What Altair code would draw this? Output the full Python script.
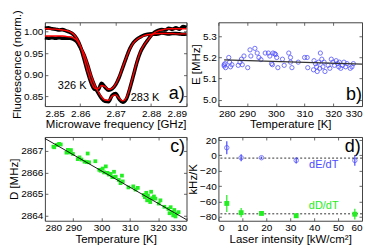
import altair as alt
import pandas as pd

FONT = "Liberation Sans"

# ---------------- panel a : ODMR spectra ----------------
freq = [2.850, 2.851, 2.852, 2.853, 2.854, 2.855, 2.856, 2.857, 2.858, 2.859,
        2.860, 2.861, 2.862, 2.863, 2.864, 2.865, 2.866, 2.867, 2.868, 2.869,
        2.870, 2.871, 2.872, 2.873, 2.874, 2.875, 2.876, 2.877, 2.878, 2.879,
        2.880, 2.881, 2.882, 2.883, 2.884, 2.885, 2.886, 2.887, 2.888, 2.889, 2.890]
fit_326 = [1.007, 1.007, 1.006, 1.006, 1.005, 1.004, 1.003, 1.000, 0.995, 0.985,
           0.968, 0.940, 0.910, 0.884, 0.869, 0.867, 0.875, 0.872, 0.866, 0.868,
           0.878, 0.895, 0.918, 0.940, 0.960, 0.974, 0.982, 0.987, 0.991, 0.993,
           0.994, 0.995, 0.996, 0.996, 0.996, 0.996, 0.996, 0.995, 0.995, 0.995, 0.995]
data_326 = [1.008, 1.009, 1.007, 1.006, 1.004, 1.005, 1.002, 0.999, 0.994, 0.984,
            0.966, 0.938, 0.908, 0.882, 0.866, 0.865, 0.880, 0.871, 0.864, 0.867,
            0.877, 0.894, 0.917, 0.940, 0.961, 0.975, 0.983, 0.988, 0.992, 0.994,
            0.995, 0.994, 0.995, 0.997, 0.996, 0.995, 0.996, 0.996, 0.995, 0.994, 0.995]
fit_283 = [0.990, 0.990, 0.990, 0.990, 0.990, 0.990, 0.989, 0.988, 0.986, 0.980,
           0.966, 0.950, 0.927, 0.900, 0.878, 0.861, 0.848, 0.841, 0.840, 0.850,
           0.853, 0.845, 0.839, 0.846, 0.870, 0.900, 0.930, 0.954, 0.969, 0.980,
           0.990, 0.998, 1.002, 1.004, 1.006, 1.007, 1.007, 1.007, 1.007, 1.007, 1.007]
data_283 = [0.986, 0.985, 0.986, 0.985, 0.986, 0.985, 0.985, 0.985, 0.983, 0.977,
            0.963, 0.947, 0.924, 0.897, 0.875, 0.858, 0.845, 0.838, 0.837, 0.852,
            0.856, 0.843, 0.836, 0.843, 0.868, 0.898, 0.929, 0.953, 0.968, 0.980,
            0.991, 0.999, 1.003, 1.005, 1.004, 1.008, 1.006, 1.009, 1.006, 1.012, 1.010]
a_labels = ["326 K", "283 K"]
a_label_x = [2.8577, 2.8783]
a_label_y = [0.874, 0.846]
a_xticks = [2.85, 2.86, 2.87, 2.88, 2.89]
a_yticks = [0.85, 0.90, 0.95, 1.00]

# ---------------- panel b : E vs T ----------------
b_T = [282.0, 282.0, 282.3, 282.5, 283.6, 283.9, 284.2, 284.7, 286.9, 287.5,
       288.0, 288.3, 288.9, 290.2, 291.0, 291.3, 292.7, 293.5, 294.1, 294.8,
       296.3, 297.4, 297.9, 298.5, 298.8, 299.0, 299.6, 299.9, 300.3, 300.7,
       302.3, 302.9, 304.5, 305.1, 305.1, 305.6, 307.8, 310.0, 310.9, 311.1,
       313.1, 313.3, 313.8, 314.2, 314.4, 314.9, 315.3, 315.5, 316.0, 316.4,
       316.8, 317.1, 318.2, 318.8, 319.3, 319.9, 320.4, 321.0, 321.5, 321.9,
       322.1, 322.6, 323.2, 323.7, 324.3, 324.8, 325.9, 326.5, 327.0]
b_E = [5.165, 5.159, 5.170, 5.151, 5.199, 5.177, 5.155, 5.165, 5.162, 5.177,
       5.191, 5.165, 5.206, 5.151, 5.235, 5.206, 5.242, 5.220, 5.199, 5.189,
       5.220, 5.220, 5.206, 5.170, 5.165, 5.220, 5.217, 5.213, 5.199, 5.151,
       5.191, 5.162, 5.220, 5.199, 5.177, 5.151, 5.177, 5.199, 5.199, 5.151,
       5.141, 5.184, 5.170, 5.155, 5.133, 5.177, 5.148, 5.220, 5.191, 5.155,
       5.177, 5.133, 5.162, 5.148, 5.191, 5.177, 5.162, 5.184, 5.170, 5.155,
       5.177, 5.148, 5.162, 5.177, 5.155, 5.170, 5.148, 5.155, 5.170]
b_fit_T = [282, 330]
b_fit_E = [5.188, 5.168]
T_ticks = [280, 290, 300, 310, 320, 330]
b_yticks = [5.0, 5.1, 5.2, 5.3]

# ---------------- panel c : D vs T ----------------
c_T = [283.0, 283.3, 284.2, 285.0, 285.6, 287.6, 288.1, 288.7, 289.2, 289.9,
       291.6, 292.2, 292.9, 294.0, 294.8, 295.1, 295.6, 297.8, 299.2, 299.7,
       300.4, 300.9, 301.5, 302.1, 302.6, 303.2, 303.8, 304.4, 305.0, 306.1,
       306.7, 307.2, 307.5, 309.5, 311.2, 312.0, 312.8, 314.9, 315.3, 315.8,
       316.1, 316.4, 316.9, 317.2, 317.5, 317.9, 318.5, 319.0, 320.2, 320.8,
       322.2, 323.6, 324.0, 324.4, 324.9, 325.3, 325.7, 326.1, 326.5, 327.2]
c_D = [2867.20, 2867.17, 2867.28, 2867.33, 2867.30, 2866.92, 2867.05, 2866.93, 2867.04, 2866.86,
       2866.62, 2866.70, 2866.60, 2866.50, 2866.48, 2866.88, 2866.47, 2866.52, 2866.12, 2866.08,
       2866.18, 2866.00, 2866.28, 2865.98, 2865.90, 2865.93, 2865.78, 2866.03, 2865.80, 2865.65,
       2865.50, 2865.85, 2865.58, 2865.30, 2865.35, 2865.20, 2865.28, 2864.95, 2864.85, 2865.05,
       2864.70, 2864.92, 2864.75, 2864.62, 2865.10, 2864.80, 2864.88, 2864.78, 2864.55, 2864.70,
       2864.40, 2864.30, 2864.10, 2864.38, 2864.15, 2864.00, 2864.25, 2863.95, 2864.08, 2864.15]
c_fit_T = [280, 330]
c_fit_D = [2867.58, 2863.80]
c_yticks = [2864, 2865, 2866, 2867]

# ---------------- panel d : slopes vs laser intensity ----------------
d_I = [3.5, 9.5, 18.0, 32.5, 57.0]
dE = [10.0, -3.0, -3.0, -6.5, -6.5]
dE_err = [8.5, 4.5, 1.5, 4.0, 7.0]
dD = [-62.5, -74.5, -75.5, -78.5, -76.5]
dD_err = [11.0, 6.0, 2.0, 3.0, 7.0]
dE_mean = -3.5
dD_mean = -76.0
d_xticks = [0, 10, 20, 30, 40, 50, 60]
d_yticks = [-80, -60, -40, -20, 0, 20]

BLUE = "#4a4aff"
GREEN = "#22ee22"

W_L, W_R, H = 142, 144, 84


def ax(values, title, fmt=None):
    kw = dict(values=values, title=title, labelOverlap=False, tickCount=20)
    if fmt:
        kw["format"] = fmt
    return alt.Axis(**kw)


def frame(xs, ys, xv, yv):
    # invisible layer carrying the tick-only axes on the top and right frame edges
    return alt.Chart(pd.DataFrame({"x": [xv[0]], "y": [yv[0]]})).mark_point(opacity=0).encode(
        x=alt.X("x:Q", scale=xs, axis=alt.Axis(orient="top", values=xv, labels=False, title=None,
                                               tickCount=20)),
        y=alt.Y("y:Q", scale=ys, axis=alt.Axis(orient="right", values=yv, labels=False, title=None,
                                               tickCount=20)))


def panel_label(text, x, y, xs, ys, align="right", baseline="bottom"):
    return alt.Chart(pd.DataFrame({"x": [x], "y": [y], "t": [text]})).mark_text(
        font=FONT, fontSize=18, align=align, baseline=baseline, color="black"
    ).encode(x=alt.X("x:Q", scale=xs, axis=None), y=alt.Y("y:Q", scale=ys, axis=None), text="t:N")


# ---- a ----
rows = []
for name, d_, f_ in [("326", data_326, fit_326), ("283", data_283, fit_283)]:
    for fr, dv, fv in zip(freq, d_, f_):
        rows.append({"f": fr, "data": dv, "fit": fv, "s": name})
dfa = pd.DataFrame(rows)
xs_a = alt.Scale(domain=[2.85, 2.89], nice=False, zero=False)
ys_a = alt.Scale(domain=[0.827, 1.022], nice=False, zero=False)
a_data = alt.Chart(dfa).mark_line(color="black", strokeWidth=3.6, interpolate="monotone").encode(
    x=alt.X("f:Q", scale=xs_a, axis=ax(a_xticks, "Microwave frequency [GHz]", ".2f")),
    y=alt.Y("data:Q", scale=ys_a, axis=ax(a_yticks, "Fluorescence (norm.)", ".2f")),
    detail="s:N")
a_fit = alt.Chart(dfa).mark_line(color="#ff0000", strokeWidth=1.4, interpolate="monotone").encode(
    x=alt.X("f:Q", scale=xs_a, axis=None), y=alt.Y("fit:Q", scale=ys_a, axis=None), detail="s:N")
a_txt = alt.Chart(pd.DataFrame({"x": a_label_x, "y": a_label_y, "t": a_labels})).mark_text(
    font=FONT, fontSize=11, color="black").encode(
    x=alt.X("x:Q", scale=xs_a, axis=None), y=alt.Y("y:Q", scale=ys_a, axis=None), text="t:N")
pa = alt.layer(a_data, a_fit, a_txt, frame(xs_a, ys_a, a_xticks, a_yticks),
               panel_label("a)", 2.8895, 0.834, xs_a, ys_a)).resolve_axis(
    x="independent", y="independent").properties(width=W_L, height=H)

# ---- b ----
xs_T = alt.Scale(domain=[280, 330], nice=False, zero=False)
ys_b = alt.Scale(domain=[4.97, 5.365], nice=False, zero=False)
dfb = pd.DataFrame({"T": b_T, "E": b_E})
b_pts = alt.Chart(dfb).mark_point(shape="circle", filled=False, color=BLUE, size=18, strokeWidth=0.9,
                                  opacity=0.85).encode(
    x=alt.X("T:Q", scale=xs_T, axis=ax(T_ticks, "Temperature [K]")),
    y=alt.Y("E:Q", scale=ys_b, axis=ax(b_yticks, "E [MHz]", ".1f")))
b_fit = alt.Chart(pd.DataFrame({"T": b_fit_T, "E": b_fit_E})).mark_line(color="#333333", strokeWidth=1.3).encode(
    x=alt.X("T:Q", scale=xs_T, axis=None), y=alt.Y("E:Q", scale=ys_b, axis=None))
pb = alt.layer(b_pts, b_fit, frame(xs_T, ys_b, T_ticks, b_yticks),
               panel_label("b)", 330, 4.981, xs_T, ys_b)).resolve_axis(
    x="independent", y="independent").properties(width=W_R, height=H)

# ---- c ----
ys_c = alt.Scale(domain=[2863.75, 2867.65], nice=False, zero=False)
dfc = pd.DataFrame({"T": c_T, "D": c_D})
c_pts = alt.Chart(dfc).mark_square(color=GREEN, size=14, opacity=1).encode(
    x=alt.X("T:Q", scale=xs_T, axis=ax(T_ticks, "Temperature [K]")),
    y=alt.Y("D:Q", scale=ys_c, axis=ax(c_yticks, "D [MHz]", "d")))
c_fit = alt.Chart(pd.DataFrame({"T": c_fit_T, "D": c_fit_D})).mark_line(color="black", strokeWidth=0.9).encode(
    x=alt.X("T:Q", scale=xs_T, axis=None), y=alt.Y("D:Q", scale=ys_c, axis=None))
pc = alt.layer(c_pts, c_fit, frame(xs_T, ys_c, T_ticks, c_yticks),
               panel_label("c)", 329.5, 2867.62, xs_T, ys_c, baseline="top")).resolve_axis(
    x="independent", y="independent").properties(width=W_L, height=H)

# ---- d ----
xs_d = alt.Scale(domain=[0, 60], nice=False, zero=False)
ys_d = alt.Scale(domain=[-85, 24], nice=False, zero=False)
dfe = pd.DataFrame({"I": d_I, "v": dE, "lo": [v - e for v, e in zip(dE, dE_err)],
                    "hi": [v + e for v, e in zip(dE, dE_err)]})
dfd = pd.DataFrame({"I": d_I, "v": dD, "lo": [v - e for v, e in zip(dD, dD_err)],
                    "hi": [v + e for v, e in zip(dD, dD_err)]})
e_pts = alt.Chart(dfe).mark_point(shape="circle", filled=False, color=BLUE, size=20, strokeWidth=1).encode(
    x=alt.X("I:Q", scale=xs_d, axis=ax(d_xticks, "Laser intensity [kW/cm²]")),
    y=alt.Y("v:Q", scale=ys_d, axis=ax(d_yticks, "kHz/K")))
means = alt.Chart(pd.DataFrame({"m": [dE_mean, dD_mean]})).mark_rule(
    color="black", strokeWidth=0.8, strokeDash=[2, 2]).encode(y=alt.Y("m:Q", scale=ys_d, axis=None))
e_bar = alt.Chart(dfe).mark_rule(color=BLUE, strokeWidth=1.2).encode(
    x=alt.X("I:Q", scale=xs_d, axis=None), y=alt.Y("lo:Q", scale=ys_d, axis=None), y2="hi:Q")
d_bar = alt.Chart(dfd).mark_rule(color=GREEN, strokeWidth=1.2).encode(
    x=alt.X("I:Q", scale=xs_d, axis=None), y=alt.Y("lo:Q", scale=ys_d, axis=None), y2="hi:Q")
d_pts = alt.Chart(dfd).mark_square(color=GREEN, size=24, opacity=1).encode(
    x=alt.X("I:Q", scale=xs_d, axis=None), y=alt.Y("v:Q", scale=ys_d, axis=None))
d_txt = alt.Chart(pd.DataFrame({"x": [44, 44], "y": [-12, -66], "t": ["dE/dT", "dD/dT"],
                                "c": [BLUE, GREEN]})).mark_text(font=FONT, fontSize=11).encode(
    x=alt.X("x:Q", scale=xs_d, axis=None), y=alt.Y("y:Q", scale=ys_d, axis=None), text="t:N",
    color=alt.Color("c:N", scale=None))
pd_ = alt.layer(e_pts, means, e_bar, d_bar, d_pts, d_txt, frame(xs_d, ys_d, d_xticks, d_yticks),
                panel_label("d)", 59.5, 23, xs_d, ys_d, baseline="top")).resolve_axis(
    x="independent", y="independent").properties(width=W_R, height=H)

chart = alt.concat(pa, pb, pc, pd_, columns=2, spacing={"row": 31, "column": 32}, bounds="flush").properties(
    padding=0
).configure_view(stroke="#444444", strokeWidth=1).configure_axis(
    grid=False, domain=False, ticks=True, tickSize=3, offset=-3, tickColor="#444444", tickWidth=0.8,
    labelOverlap=False, labelFont=FONT, titleFont=FONT, labelFontSize=10,
    titleFontSize=11.5, labelColor="black", titleColor="black", titleFontWeight="normal",
    labelPadding=2, titlePadding=1)

chart.save("out.html", embed_options={"renderer": "svg", "actions": False})
